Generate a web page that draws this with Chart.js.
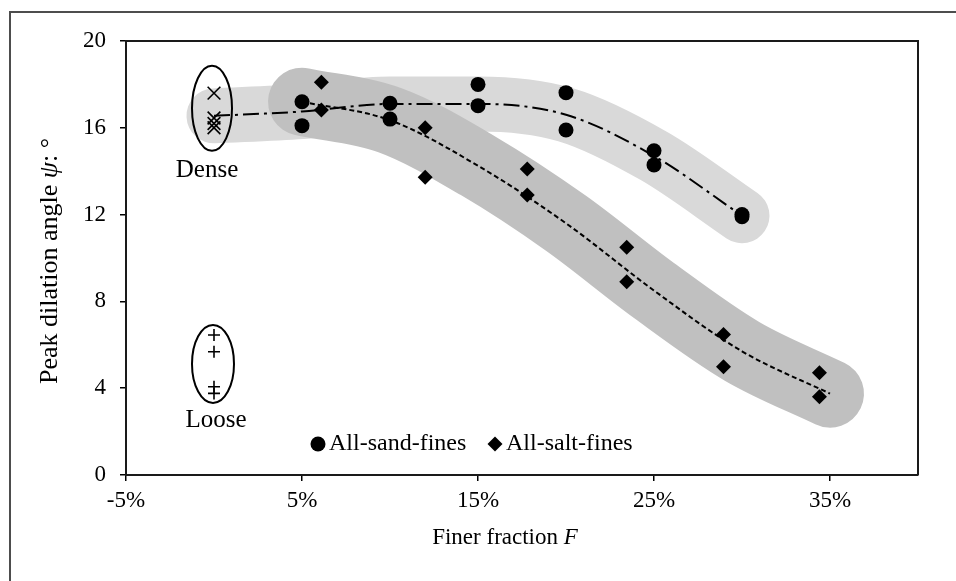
<!DOCTYPE html>
<html>
<head>
<meta charset="utf-8">
<script src="https://cdn.jsdelivr.net/npm/chart.js@4/dist/chart.umd.min.js"></script>
<style>
  html, body { margin: 0; padding: 0; background: #fff; }
  #wrap { position: relative; width: 956px; height: 581px; }
  canvas { display: block; }
</style>
</head>
<body>
<div id="wrap"><canvas id="chart" width="956" height="581"></canvas></div>
<script>
// Finer fraction F (%) against peak dilation angle psi (degrees)
const sandF   = [5, 5, 10, 10, 15, 15, 20, 20, 25, 25, 30, 30];
const sandPsi = [17.2, 16.1, 17.13, 16.4, 18.0, 17.02, 17.62, 15.9, 14.94, 14.29, 12.0, 11.9];

const saltF   = [6.1, 6.1, 12, 12, 17.8, 17.8, 23.45, 23.45, 28.95, 28.95, 34.4, 34.4];
const saltPsi = [18.1, 16.82, 16.0, 13.72, 14.1, 12.9, 10.5, 8.91, 6.48, 4.99, 4.71, 3.61];

// Clean sand references at F = 0
const denseF   = [0, 0, 0, 0];
const densePsi = [17.6, 16.45, 16.2, 16.0];
const looseF   = [0, 0, 0, 0];
const loosePsi = [6.45, 5.68, 4.07, 3.76];

// Trend curves for each fines type
const sandTrendF   = [0, 5, 10, 15, 20, 25, 30];
const sandTrendPsi = [16.55, 16.75, 17.1, 17.1, 16.6, 14.7, 11.95];
const saltTrendF   = [5, 10, 15, 20, 25, 30, 35];
const saltTrendPsi = [17.2, 16.35, 14.25, 11.6, 8.5, 5.7, 3.75];

// Axis ticks
const xTicks = [-5, 5, 15, 25, 35];
const yTicks = [0, 4, 8, 12, 16, 20];

// Group outlines around the clean-sand references (centre in data units)
const groupNames = ['Dense', 'Loose'];
const groupCentreF = [0, 0];
const groupCentrePsi = [16.9, 5.12];

const legendNames = ['All-sand-fines', 'All-salt-fines'];

const SERIF = "'Liberation Serif', 'Times New Roman', serif";
const pts = (xs, ys) => xs.map((x, i) => ({ x: x, y: ys[i] }));

const decor = {
  id: 'decor',
  afterDatasetsDraw(chart) {
    const ctx = chart.ctx;
    const a = chart.chartArea;
    const xs = chart.scales.x, ys = chart.scales.y;
    ctx.save();

    // top and right sides of the plot frame
    ctx.strokeStyle = '#1a1a1a';
    ctx.lineWidth = 2;
    ctx.beginPath();
    ctx.moveTo(a.left, a.top);
    ctx.lineTo(a.right, a.top);
    ctx.lineTo(a.right, a.bottom);
    ctx.stroke();

    // ellipses around the dense / loose groups, with their names
    const shapes = [{ rx: 20, ry: 42.5, dx: -2, lx: -5, ly: 20 }, { rx: 21, ry: 39, dx: -1, lx: 3, ly: 18 }];
    ctx.lineWidth = 2;
    ctx.strokeStyle = '#000';
    ctx.fillStyle = '#000';
    ctx.font = '25px ' + SERIF;
    ctx.textAlign = 'center';
    ctx.textBaseline = 'middle';
    groupNames.forEach((name, i) => {
      const cx = xs.getPixelForValue(groupCentreF[i]) + shapes[i].dx;
      const cy = ys.getPixelForValue(groupCentrePsi[i]);
      ctx.beginPath();
      ctx.ellipse(cx, cy, shapes[i].rx, shapes[i].ry, 0, 0, Math.PI * 2);
      ctx.stroke();
      ctx.fillText(name, cx + shapes[i].lx, cy + shapes[i].ry + shapes[i].ly);
    });

    // legend inside the plot
    ctx.font = '24px ' + SERIF;
    const ly = a.bottom - 31;
    let lx = a.left + 192;
    ctx.textAlign = 'left';
    ctx.beginPath();
    ctx.arc(lx, ly, 7.5, 0, Math.PI * 2);
    ctx.fill();
    ctx.fillText(legendNames[0], lx + 11, ly);
    lx = a.left + 369;
    ctx.beginPath();
    ctx.moveTo(lx - 7.5, ly);
    ctx.lineTo(lx, ly - 7.5);
    ctx.lineTo(lx + 7.5, ly);
    ctx.lineTo(lx, ly + 7.5);
    ctx.closePath();
    ctx.fill();
    ctx.fillText(legendNames[1], lx + 11, ly);
    ctx.restore();
  },
  afterDraw(chart) {
    const ctx = chart.ctx;
    const a = chart.chartArea;
    ctx.save();
    ctx.fillStyle = '#000';
    ctx.textBaseline = 'middle';

    const drawRun = (parts, x, y) => {
      let total = 0;
      parts.forEach(p => { ctx.font = p.f; total += ctx.measureText(p.t).width; });
      let cx = x - total / 2;
      ctx.textAlign = 'left';
      parts.forEach(p => {
        ctx.font = p.f;
        ctx.fillText(p.t, cx, y + (p.dy || 0));
        cx += ctx.measureText(p.t).width;
      });
    };

    // x-axis title
    drawRun([
      { t: 'Finer fraction ', f: '23px ' + SERIF },
      { t: 'F', f: 'italic 23px ' + SERIF }
    ], (a.left + a.right) / 2 - 17, a.bottom + 63);

    // y-axis title (rotated)
    ctx.translate(50, (a.top + a.bottom) / 2 + 3);
    ctx.rotate(-Math.PI / 2);
    drawRun([
      { t: 'Peak dilation angle ', f: '26px ' + SERIF },
      { t: 'ψ', f: 'italic 26px ' + SERIF },
      { t: ': ', f: '26px ' + SERIF },
      { t: '°', f: '26px ' + SERIF }
    ], 0, 0);
    ctx.restore();

    // outer frame
    ctx.save();
    ctx.strokeStyle = '#4d4d4d';
    ctx.lineWidth = 2;
    ctx.beginPath();
    ctx.moveTo(10, 581);
    ctx.lineTo(10, 12);
    ctx.lineTo(956, 12);
    ctx.stroke();
    ctx.restore();
  }
};

new Chart(document.getElementById('chart'), {
  type: 'scatter',
  data: {
    datasets: [
      { label: legendNames[0], data: pts(sandF, sandPsi), pointStyle: 'circle', pointRadius: 7.5,
        backgroundColor: '#000', borderWidth: 0, order: 1 },
      { label: legendNames[1], data: pts(saltF, saltPsi), pointStyle: 'rectRot', pointRadius: 7.5,
        backgroundColor: '#000', borderWidth: 0, order: 1 },
      { label: 'Dense', data: pts(denseF, densePsi), pointStyle: 'crossRot', pointRadius: 9,
        borderColor: '#000', borderWidth: 1.6, order: 1 },
      { label: 'Loose', data: pts(looseF, loosePsi), pointStyle: 'cross', pointRadius: 6,
        borderColor: '#000', borderWidth: 1.6, order: 1 },
      { label: 'sand trend', data: pts(sandTrendF, sandTrendPsi), showLine: true, pointRadius: 0,
        borderColor: '#000', borderWidth: 2, borderDash: [16, 5, 3, 5],
        cubicInterpolationMode: 'monotone', order: 5 },
      { label: 'salt trend', data: pts(saltTrendF, saltTrendPsi), showLine: true, pointRadius: 0,
        borderColor: '#000', borderWidth: 2, borderDash: [5, 3],
        cubicInterpolationMode: 'monotone', order: 5 },
      { label: 'salt band', data: pts(saltTrendF, saltTrendPsi), showLine: true, pointRadius: 0,
        borderColor: '#c0c0c0', borderWidth: 68, borderCapStyle: 'round', borderJoinStyle: 'round',
        cubicInterpolationMode: 'monotone', order: 9 },
      { label: 'sand band', data: pts(sandTrendF, sandTrendPsi), showLine: true, pointRadius: 0,
        borderColor: '#d9d9d9', borderWidth: 55, borderCapStyle: 'round', borderJoinStyle: 'round',
        cubicInterpolationMode: 'monotone', order: 10 }
    ]
  },
  options: {
    responsive: false,
    animation: false,
    devicePixelRatio: 1,
    layout: { padding: { top: 41, right: 38, left: 0, bottom: 0 } },
    plugins: { legend: { display: false }, tooltip: { enabled: false } },
    scales: {
      x: {
        type: 'linear', min: -5, max: 40,
        afterBuildTicks: axis => { axis.ticks = xTicks.map(v => ({ value: v })); },
        afterFit: axis => { axis.height = 106; },
        grid: { drawOnChartArea: false, drawTicks: true, tickLength: 6, color: '#000', lineWidth: 1.5 },
        border: { display: true, color: '#1a1a1a', width: 2 },
        ticks: { color: '#000', font: { family: SERIF, size: 23 }, padding: 6, maxRotation: 0,
                 callback: v => v + '%' }
      },
      y: {
        type: 'linear', min: 0, max: 20,
        afterBuildTicks: axis => { axis.ticks = yTicks.map(v => ({ value: v })); },
        afterFit: axis => { axis.width = 126; },
        grid: { drawOnChartArea: false, drawTicks: true, tickLength: 6, color: '#000', lineWidth: 1.5 },
        border: { display: true, color: '#1a1a1a', width: 2 },
        ticks: { color: '#000', font: { family: SERIF, size: 23 }, padding: 14 }
      }
    }
  },
  plugins: [decor]
});
</script>
</body>
</html>
